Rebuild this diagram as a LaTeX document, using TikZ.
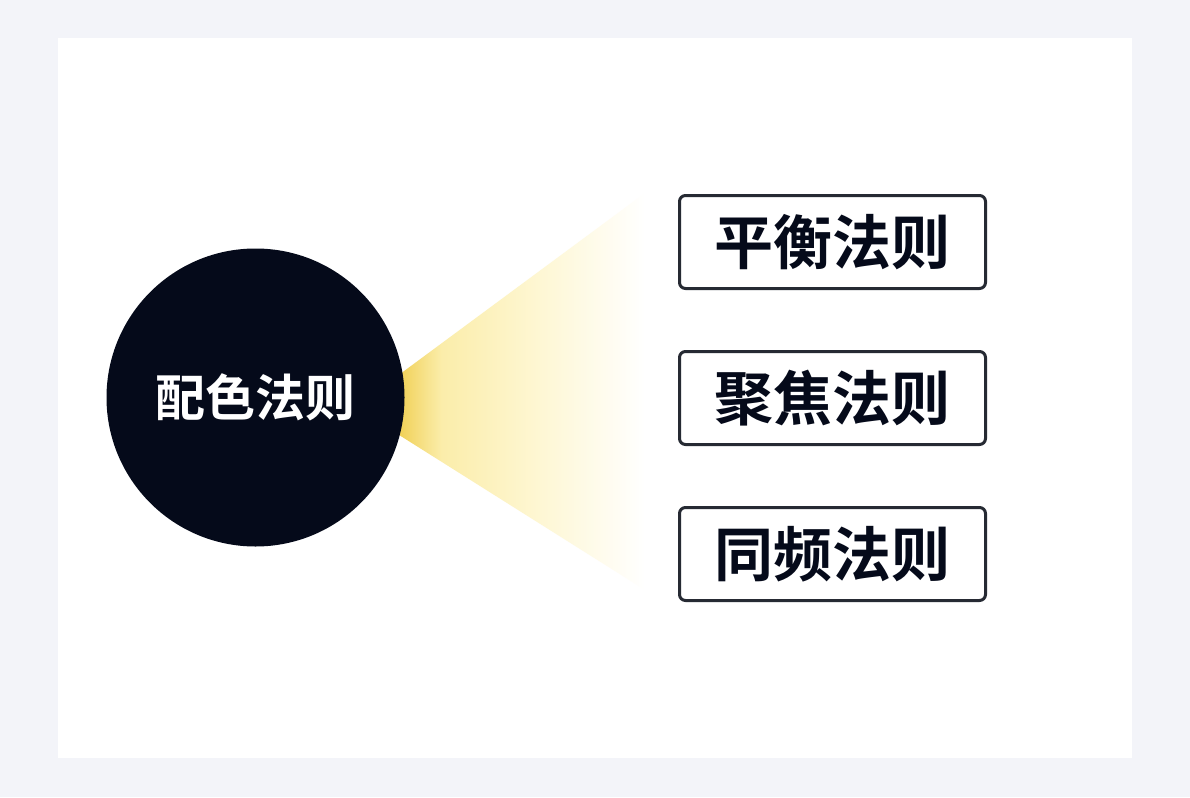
\documentclass[tikz,border=0pt]{standalone}
\usepackage{fontspec}
\newfontfamily\cjkbold{Noto Sans CJK SC Bold}
\usetikzlibrary{positioning,backgrounds,calc}
\definecolor{pagebg}{HTML}{F3F4F9}
\definecolor{inkdark}{HTML}{050A1A}
\definecolor{frame}{HTML}{262A33}
\definecolor{glow}{HTML}{F1D25C}
\definecolor{glowmid}{HTML}{FBEDAA}
\definecolor{glowpale}{HTML}{FEF7D4}
\pgfdeclarehorizontalshading{glowfade}{100bp}{color(0bp)=(glow); color(26bp)=(glow);
  color(34bp)=(glowmid); color(54bp)=(glowpale); color(75bp)=(white); color(100bp)=(white)}
\tikzset{
  rulebox/.style={draw=frame,line width=3pt,rounded corners=6pt,fill=white,
    minimum width=306pt,minimum height=93pt,inner sep=0pt,outer sep=0pt,
    text=inkdark,font=\cjkbold\fontsize{59}{60}\selectfont},
  hub/.style={circle,fill=inkdark,minimum size=298pt,inner sep=0pt,
    text=white,font=\cjkbold\fontsize{50}{50}\selectfont}
}
\begin{document}
\begin{tikzpicture}[x=1pt,y=-1pt]
  \useasboundingbox (0,0) rectangle (1190,797);
  \node[hub] (hub) at (255.5,397.5) {配色法则};
  \node[rulebox] (balance) at (832.5,242) {平衡法则};
  \node[rulebox,below=63pt of balance] (focus) {聚焦法则};
  \node[rulebox,below=63pt of focus] (samefreq) {同频法则};
  \begin{scope}[on background layer]
    \fill[pagebg] (0,0) rectangle (1190,797);
    \fill[white] (58,38) rectangle (1132,758);
    % light cone from the hub
    \shade[shading=glowfade]
      ($(hub.east)+(-8,-21)$) -- (645,193) -- (645,590)
      -- ($(hub.east)+(-8,36)$) -- cycle;
  \end{scope}
\end{tikzpicture}
\end{document}
